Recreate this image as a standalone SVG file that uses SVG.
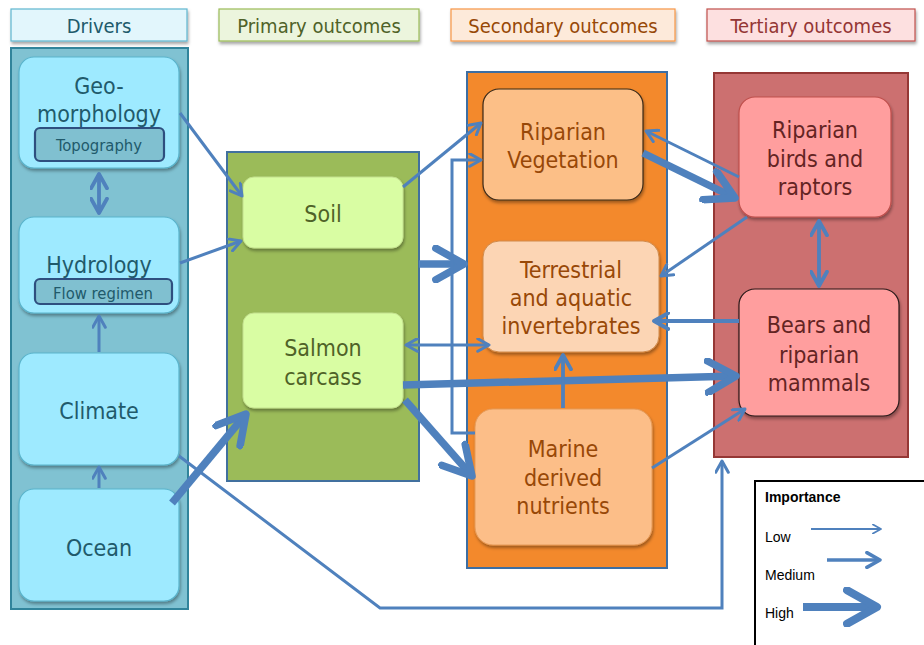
<svg xmlns="http://www.w3.org/2000/svg" width="924" height="645" viewBox="0 0 924 645">
<defs>
<filter id="sh" x="-10%" y="-10%" width="130%" height="130%">
<feDropShadow dx="1" dy="2.5" stdDeviation="1.5" flood-color="#000" flood-opacity="0.35"/>
</filter>
<marker id="ah" viewBox="0 0 10 10" refX="8.5" refY="5" markerWidth="5" markerHeight="5" orient="auto-start-reverse" markerUnits="strokeWidth">
<path d="M1,0.8 L8.5,5 L1,9.2" fill="none" stroke="#4f81bd" stroke-width="2" stroke-linecap="round" stroke-linejoin="round"/>
</marker>
<marker id="ahl" viewBox="0 0 10 10" refX="8.5" refY="5" markerWidth="6" markerHeight="6" orient="auto-start-reverse" markerUnits="strokeWidth">
<path d="M1,0.8 L8.5,5 L1,9.2" fill="none" stroke="#4f81bd" stroke-width="1.6" stroke-linecap="round" stroke-linejoin="round"/>
</marker>
</defs>
<style>
text{font-family:"DejaVu Sans Condensed","DejaVu Sans",sans-serif;text-anchor:middle}
.hd{font-size:20px}
.nt{font-size:23px}
.sm{font-size:16.5px}
.cn{fill:none;stroke:#4f81bd;stroke-linecap:butt;stroke-linejoin:miter}
.lo{stroke-width:3;marker-end:url(#ah)}
.me{stroke-width:3.8;marker-end:url(#ah)}
.hi{stroke-width:7.5;marker-end:url(#ah)}
.lg{font-family:"Liberation Sans",Arial,sans-serif;text-anchor:start;font-size:14px;fill:#000}
</style>

<!-- headers -->
<g id="hdr-drivers">
<rect x="11" y="9" width="176" height="32" fill="#e2f6fc" stroke="#5fb6cf" stroke-width="1.2" filter="url(#sh)"/>
<text class="hd" x="99" y="33" fill="#215a6b">Drivers</text>
</g>
<g id="hdr-primary">
<rect x="219" y="9" width="200" height="32" fill="#ecf5dd" stroke="#9bbb59" stroke-width="1.2" filter="url(#sh)"/>
<text class="hd" x="319" y="33" fill="#4f6228">Primary outcomes</text>
</g>
<g id="hdr-secondary">
<rect x="451" y="9" width="224" height="32" fill="#fdeada" stroke="#f79646" stroke-width="1.2" filter="url(#sh)"/>
<text class="hd" x="563" y="33" fill="#974806">Secondary outcomes</text>
</g>
<g id="hdr-tertiary">
<rect x="707" y="9" width="208" height="32" fill="#fde0e0" stroke="#c0504d" stroke-width="1.2" filter="url(#sh)"/>
<text class="hd" x="811" y="33" fill="#943634">Tertiary outcomes</text>
</g>

<!-- columns -->
<g id="col-drivers"><rect x="11" y="48" width="177" height="561" fill="#80c2d2" stroke="#31849b" stroke-width="2"/></g>
<g id="col-primary"><rect x="227" y="152" width="192" height="329" fill="#9bbb59" stroke="#41709e" stroke-width="2"/></g>
<g id="col-secondary"><rect x="467" y="72" width="200" height="496" fill="#f3892c" stroke="#3d6ea2" stroke-width="2"/></g>
<g id="col-tertiary"><rect x="714" y="73" width="194" height="384" fill="#cc7070" stroke="#953735" stroke-width="2"/></g>

<!-- driver nodes -->
<g id="geomorphology">
<rect x="19" y="57" width="160" height="111" rx="15" fill="#9eeaff" stroke="#5ab4cc" stroke-width="1.2" filter="url(#sh)"/>
<text class="nt" x="99" y="94" fill="#215a6b">Geo-</text>
<text class="nt" x="99" y="122" fill="#215a6b">morphology</text>
<rect x="35" y="128" width="129" height="33" rx="5" fill="#80c0d0" stroke="#2e4f7f" stroke-width="2.2"/>
<text class="sm" x="99" y="151" fill="#215a6b">Topography</text>
</g>
<g id="hydrology">
<rect x="19" y="217" width="160" height="96" rx="15" fill="#9eeaff" stroke="#5ab4cc" stroke-width="1.2" filter="url(#sh)"/>
<text class="nt" x="99" y="273" fill="#215a6b">Hydrology</text>
<rect x="35" y="279" width="137" height="25" rx="5" fill="#80c0d0" stroke="#2e4f7f" stroke-width="2.2"/>
<text class="sm" x="103" y="299" fill="#215a6b">Flow regimen</text>
</g>
<g id="climate">
<rect x="19" y="353" width="160" height="112" rx="15" fill="#9eeaff" stroke="#5ab4cc" stroke-width="1.2" filter="url(#sh)"/>
<text class="nt" x="99" y="419" fill="#215a6b">Climate</text>
</g>
<g id="ocean">
<rect x="19" y="489" width="160" height="112" rx="15" fill="#9eeaff" stroke="#5ab4cc" stroke-width="1.2" filter="url(#sh)"/>
<text class="nt" x="99" y="556" fill="#215a6b">Ocean</text>
</g>

<!-- primary nodes -->
<g id="soil">
<rect x="243" y="177" width="160" height="71" rx="11" fill="#d9fda3" stroke="#c3e08e" stroke-width="1" filter="url(#sh)"/>
<text class="nt" x="323" y="222" fill="#4f6228">Soil</text>
</g>
<g id="salmon-carcass">
<rect x="243" y="313" width="160" height="95" rx="11" fill="#d9fda3" stroke="#c3e08e" stroke-width="1" filter="url(#sh)"/>
<text class="nt" x="323" y="356" fill="#4f6228">Salmon</text>
<text class="nt" x="323" y="385" fill="#4f6228">carcass</text>
</g>

<!-- secondary nodes -->
<g id="riparian-vegetation">
<rect x="483" y="89" width="160" height="111" rx="16" fill="#fcbf87" stroke="#3a2a1a" stroke-width="1.2" filter="url(#sh)"/>
<text class="nt" x="563" y="140" fill="#984807">Riparian</text>
<text class="nt" x="563" y="168" fill="#984807">Vegetation</text>
</g>
<g id="invertebrates">
<rect x="483" y="241" width="176" height="111" rx="16" fill="#fcd5b4" stroke="#d08a4a" stroke-width="1" filter="url(#sh)"/>
<text class="nt" x="571" y="278" fill="#984807">Terrestrial</text>
<text class="nt" x="571" y="306" fill="#984807">and aquatic</text>
<text class="nt" x="571" y="334" fill="#984807">invertebrates</text>
</g>
<g id="marine-derived-nutrients">
<rect x="475" y="409" width="177" height="136" rx="18" fill="#fcbe88" stroke="#e59a58" stroke-width="1" filter="url(#sh)"/>
<text class="nt" x="563" y="457" fill="#984807">Marine</text>
<text class="nt" x="563" y="486" fill="#984807">derived</text>
<text class="nt" x="563" y="514" fill="#984807">nutrients</text>
</g>

<!-- tertiary nodes -->
<g id="birds-raptors">
<rect x="739" y="97" width="152" height="120" rx="16" fill="#ff9e9e" stroke="#c0504d" stroke-width="1.2" filter="url(#sh)"/>
<text class="nt" x="815" y="138" fill="#632423">Riparian</text>
<text class="nt" x="815" y="167" fill="#632423">birds and</text>
<text class="nt" x="815" y="195" fill="#632423">raptors</text>
</g>
<g id="bears-mammals">
<rect x="739" y="289" width="160" height="127" rx="16" fill="#ff9e9e" stroke="#2a1a1a" stroke-width="1.2" filter="url(#sh)"/>
<text class="nt" x="819" y="333" fill="#632423">Bears and</text>
<text class="nt" x="819" y="363" fill="#632423">riparian</text>
<text class="nt" x="819" y="391" fill="#632423">mammals</text>
</g>

<!-- connectors -->
<g id="connectors" class="cn">
<path class="cn me" d="M99,174 V213" marker-start="url(#ah)"/>
<path class="cn lo" d="M99,352 V316"/>
<path class="cn lo" d="M99,488 V467"/>
<path class="cn lo" d="M180,113 L242,196"/>
<path class="cn lo" d="M180,263 L241,241"/>
<path class="cn hi" d="M172,503 L246,414"/>
<path class="cn lo" d="M179,456 L380,608 H722 V461"/>
<path class="cn lo" d="M403,187 L481,123"/>
<path class="cn hi" d="M419,264 H464"/>
<path class="cn lo" d="M475,433 H452 V160 H481"/>
<path class="cn lo" d="M406,345 H489" marker-start="url(#ah)"/>
<path class="cn hi" d="M403,385 L736,376"/>
<path class="cn hi" d="M405,400 L472,476"/>
<path class="cn me" d="M563,408 V355"/>
<path class="cn lo" d="M652,468 L745,409"/>
<path class="cn lo" d="M739,177 L646,131"/>
<path class="cn hi" d="M643,153 L735,198"/>
<path class="cn lo" d="M747,217 L661,276"/>
<path class="cn me" d="M819,221 V286" marker-start="url(#ah)"/>
<path class="cn me" d="M739,321 H654"/>
</g>

<!-- legend -->
<g id="legend">
<rect x="755" y="481" width="180" height="180" fill="#fff" stroke="#000" stroke-width="2"/>
<text class="lg" x="765" y="502" font-weight="bold" font-size="13.5">Importance</text>
<text class="lg" x="765" y="542">Low</text>
<text class="lg" x="765" y="580">Medium</text>
<text class="lg" x="765" y="618">High</text>
<path class="cn" d="M811,529 H881" stroke-width="1.8" marker-end="url(#ahl)"/>
<path class="cn" d="M827,560 H880" stroke-width="3.5" marker-end="url(#ah)"/>
<path class="cn" d="M803,607 H877" stroke-width="8" marker-end="url(#ah)"/>
</g>
</svg>
